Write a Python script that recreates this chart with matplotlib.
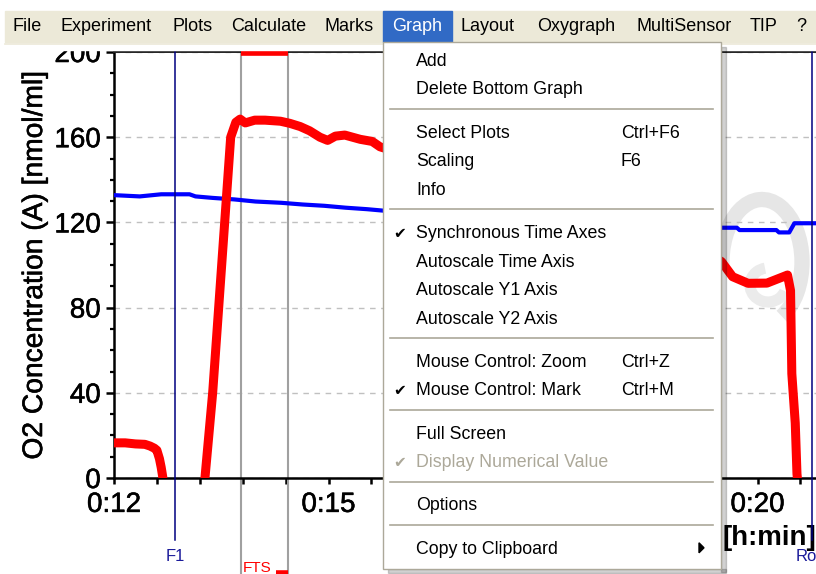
import matplotlib
matplotlib.use("Agg")
import matplotlib.pyplot as plt
import matplotlib.patheffects as pe
from matplotlib.patches import Rectangle, Arc, Polygon
from matplotlib.ticker import MultipleLocator, FixedLocator, FixedFormatter

plt.rcParams['font.family'] = ['Liberation Sans', 'DejaVu Sans']

# O2 concentration (red) and O2 flux-like trace (blue), time in minutes
red_t = [12.50, 12.63, 12.75, 12.86, 12.92, 12.97, 13.00, 13.03, 13.05, 13.07, 13.10,
         13.50, 13.56, 13.65, 13.72, 13.79, 13.86, 13.92, 13.97, 14.03, 14.14, 14.26,
         14.44, 14.55, 14.67, 14.78, 14.90, 14.99, 15.08, 15.19, 15.37, 15.51, 15.60,
         15.72, 16.50, 17.50, 18.50, 19.30, 19.58, 19.71, 19.89, 20.11, 20.30, 20.35,
         20.385, 20.40, 20.44, 20.46, 20.50]
red_c = [16.5, 16.5, 16.0, 15.8, 15.0, 14.0, 13.0, 9.0, 5.0, 0.0, -20.0,
         -20.0, 0.0, 40.0, 80.0, 120.0, 160.0, 167.0, 168.5, 166.7, 168.0, 168.0,
         167.5, 166.5, 165.0, 163.0, 160.0, 158.5, 160.5, 161.0, 159.0, 158.0, 155.5,
         154.0, 150.0, 140.0, 122.0, 108.0, 101.6, 94.5, 91.4, 91.5, 94.5, 95.3,
         88.0, 49.0, 25.8, 2.0, -15.0]

blue_t = [12.50, 12.80, 13.05, 13.38, 13.45, 13.65, 13.90, 14.15, 14.45, 14.70,
          14.95, 15.20, 15.45, 15.70, 17.00, 18.50, 19.54, 19.76, 19.79, 20.22,
          20.25, 20.37, 20.43, 20.70]
blue_c = [132.8, 132.2, 133.2, 133.2, 132.2, 131.5, 130.8, 129.8, 129.2, 128.4,
          127.8, 126.9, 126.2, 125.3, 122.0, 119.0, 117.5, 117.5, 116.4, 116.4,
          115.3, 115.3, 119.6, 119.6]

time_ticks = [12.5, 15.0, 17.5, 20.0]
time_labels = ["0:12", "0:15", "0:17", "0:20"]
conc_ticks = [0, 40, 80, 120, 160, 200]

# marks
f1_time = 13.21
ro_time = 20.635
fts_start, fts_end = 13.98, 14.53

menubar_items = ["File", "Experiment", "Plots", "Calculate", "Marks", "Graph",
                 "Layout", "Oxygraph", "MultiSensor", "TIP", "?"]
menubar_x = [13, 60, 172, 231, 325, 392, 460, 537, 637, 750, 796]

# (label, shortcut, checked, enabled); None = separator
menu_items = [
    ("Add", "", False, True),
    ("Delete Bottom Graph", "", False, True),
    None,
    ("Select Plots", "Ctrl+F6", False, True),
    ("Scaling", "F6", False, True),
    ("Info", "", False, True),
    None,
    ("Synchronous Time Axes", "", True, True),
    ("Autoscale Time Axis", "", False, True),
    ("Autoscale Y1 Axis", "", False, True),
    ("Autoscale Y2 Axis", "", False, True),
    None,
    ("Mouse Control: Zoom", "Ctrl+Z", False, True),
    ("Mouse Control: Mark", "Ctrl+M", True, True),
    None,
    ("Full Screen", "", False, True),
    ("Display Numerical Value", "", True, False),
    None,
    ("Options", "", False, True),
    None,
    ("Copy to Clipboard", ">", False, True),
]

W, H = 816, 574
fig = plt.figure(figsize=(W / 100, H / 100), dpi=100)
fig.patch.set_facecolor('white')

ax = fig.add_axes([114 / W, 96 / H, 702 / W, 426 / H])
ax.set_facecolor('none')

# pixel overlay for window chrome
ov = fig.add_axes([0, 0, 1, 1], zorder=10)
ov.set_xlim(0, W)
ov.set_ylim(H, 0)
ov.axis('off')
ov.patch.set_alpha(0)

# faint logo watermark behind the traces
ax.add_patch(Arc((762, 262), 80, 125, angle=0, theta1=-190, theta2=70,
                 transform=ov.transData, color='#e6e6e6', lw=11, zorder=0.5))
ax.add_patch(Arc((768, 285), 36, 34, angle=0, theta1=20, theta2=260,
                 transform=ov.transData, color='#ebebeb', lw=8, zorder=0.5))

ax.plot(blue_t, blue_c, color='#0000ff', lw=3.0, zorder=3)
ax.plot(red_t, red_c, color='#ff0000', lw=6.5, zorder=4)

ax.set_xlim(12.5, 12.5 + 702 / 85.8)
ax.set_ylim(0, 200)

ax.xaxis.set_major_locator(FixedLocator(time_ticks))
ax.xaxis.set_major_formatter(FixedFormatter(time_labels))
ax.xaxis.set_minor_locator(MultipleLocator(0.5))
ax.yaxis.set_major_locator(FixedLocator(conc_ticks))
ax.yaxis.set_minor_locator(MultipleLocator(10))

ax.tick_params(axis='x', which='both', direction='out', length=4, width=1.8,
               labelsize=20, pad=6, top=False)
ax.tick_params(axis='y', which='major', direction='out', length=5.5, width=1.8,
               labelsize=20, pad=4, right=False)
ax.tick_params(axis='y', which='minor', direction='out', length=3, width=1.6, right=False)
heavy = [pe.withStroke(linewidth=0.4, foreground='black')]
for lab in ax.get_xticklabels() + ax.get_yticklabels():
    lab.set_path_effects(heavy)

ax.grid(axis='y', which='major', color='#c0c0c0', lw=1.0, ls=(0, (4, 4)))
ax.set_axisbelow(True)
for side in ['left', 'bottom']:
    ax.spines[side].set_linewidth(1.8)
ax.spines['top'].set_linewidth(1.4)
ax.spines['top'].set_color('#222222')
ax.spines['right'].set_visible(False)

ylab = ax.set_ylabel("O2 Concentration (A) [nmol/ml]", fontsize=20.3)
ylab.set_path_effects(heavy)
ax.yaxis.set_label_coords(-0.094, 0.5)

ax.text(0.8675, -0.14, "[h:min]", transform=ax.transAxes, fontsize=20,
        fontweight='bold', ha='left', va='center', clip_on=False)

# mark lines
ax.axvline(f1_time, ymin=-0.146, ymax=1, color='#000080', lw=1.1, clip_on=False, zorder=5)
ax.axvline(ro_time, ymin=-0.146, ymax=1, color='#000080', lw=1.1, clip_on=False, zorder=5)
for t in (fts_start, fts_end):
    ax.axvline(t, ymin=-0.23, ymax=1, color='#a0a0a0', lw=1.5, clip_on=False, zorder=2)
ax.plot([fts_start, fts_end], [200, 200], color='#ff0000', lw=5.5,
        solid_capstyle='butt', clip_on=False, zorder=6)
ax.plot([14.39, fts_end], [-44.5, -44.5], color='#ff0000', lw=4,
        solid_capstyle='butt', clip_on=False, zorder=6)

ax.text(f1_time, -0.185 * 200, "F1", color='#1a1a9a', fontsize=12, ha='center',
        va='center', clip_on=False)
ax.text(ro_time - 0.19, -0.185 * 200, "Ro", color='#1a1a9a', fontsize=12, ha='left',
        va='center', clip_on=False)
ax.text(fts_start + 0.02, -44.0, "FTS", color='#ff0000', fontsize=11, ha='left',
        va='baseline', clip_on=False)

# --- window chrome ---
ov.add_patch(Rectangle((0, 0), W, 42, color='white', zorder=1))
ov.add_patch(Rectangle((5, 11), W - 5, 31, color='#ece9d8', zorder=2))
ov.add_patch(Rectangle((0, 42), W, 8, color='white', zorder=1))
ov.plot([5, W], [44, 44], color='#ece9d8', lw=1.2, zorder=2)
ov.add_patch(Rectangle((383, 11), 69, 31, color='#316ac5', zorder=3))
for name, x in zip(menubar_items, menubar_x):
    ov.text(x, 31, name, fontsize=13, va='baseline', ha='left', zorder=4,
            color='white' if name == "Graph" else 'black')

# dropdown menu
ov.add_patch(Rectangle((721, 47), 5, 525, color='#000000', alpha=0.18, zorder=3))
ov.add_patch(Rectangle((388, 569), 338, 4, color='#000000', alpha=0.18, zorder=3))
ov.add_patch(Rectangle((383, 42), 338, 527, facecolor='white', edgecolor='#aca899',
                       lw=1.0, zorder=4))

y = 60.0
for item in menu_items:
    if item is None:
        ov.plot([390, 713], [y - 8, y - 8], color='#aca899', lw=1.2, zorder=5)
        y += 14.8
        continue
    label, shortcut, checked, enabled = item
    col = 'black' if enabled else '#aca899'
    ov.text(416, y + 6, label, fontsize=12.8, color=col, va='baseline', zorder=6)
    if checked:
        ov.text(393, y + 6, "\u2714", fontsize=11, color=col, va='baseline',
                family='DejaVu Sans', zorder=6)
    if shortcut == ">":
        ov.add_patch(Polygon([[699, y - 5], [699, y + 5], [704, y]], closed=True,
                             color='black', zorder=6))
    elif shortcut:
        ov.text(621, y + 6, shortcut, fontsize=12.8, color=col, va='baseline', zorder=6)
    y += 28.5

fig.savefig("out.png", dpi=100)
